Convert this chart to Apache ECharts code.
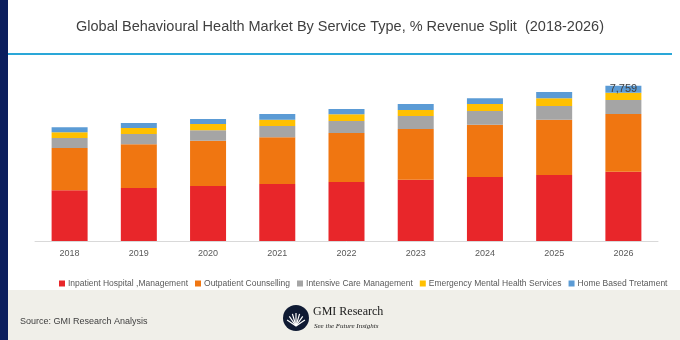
<!DOCTYPE html>
<html><head><meta charset="utf-8">
<script src="https://cdn.jsdelivr.net/npm/echarts@6/dist/echarts.min.js"></script>
<style>html,body{margin:0;padding:0;background:#fff}#c{width:680px;height:340px}</style>
</head><body><div id="c"></div>
<script>
var categories = ['2018','2019','2020','2021','2022','2023','2024','2025','2026'];
var seriesNames = ['Inpatient Hospital ,Management','Outpatient Counselling','Intensive Care Management','Emergency Mental Health Services','Home Based Tretament'];
var inpatient  = [2535, 2650, 2750, 2850, 2950, 3065, 3200, 3300, 3459];
var outpatient = [2115, 2185, 2265, 2335, 2450, 2535, 2615, 2765, 2885];
var intensive  = [500, 515, 520, 565, 600, 650, 685, 685, 700];
var emergency  = [285, 300, 315, 315, 335, 300, 350, 385, 365];
var homeBased  = [250, 250, 250, 285, 265, 300, 285, 315, 350];
var colors = ['#e8262a','#f07611','#a5a5a5','#ffc000','#5b9bd5'];
var titleText = 'Global Behavioural Health Market By Service Type, % Revenue Split  (2018-2026)';
var sourceText = 'Source: GMI Research Analysis';

var all = [inpatient, outpatient, intensive, emergency, homeBased];
var lastIdx = categories.length - 1;
var lastTotal = all.reduce(function(s,a){return s + a[lastIdx];}, 0);

var chart = echarts.init(document.getElementById('c'));
var series = all.map(function(arr, i){
  return {
    name: seriesNames[i], type: 'bar', stack: 'total', barWidth: 36,
    itemStyle: {color: colors[i]},
    data: arr.map(function(v, j){
      if (i === all.length - 1 && j === lastIdx) {
        return {value: v, label: {show: true, position: 'inside', formatter: lastTotal.toLocaleString('en-US'),
          color: '#404040', fontSize: 11, fontFamily: 'Liberation Sans'}};
      }
      return v;
    })
  };
});

var fan = [];
for (var k = 0; k < 7; k++) {
  var ang = Math.PI * (0.15 + 0.7 * k / 6);
  fan.push({type: 'line', shape: {x1: 296, y1: 326, x2: 296 - Math.cos(ang) * 10, y2: 326 - Math.sin(ang) * 13},
    style: {stroke: '#fff', lineWidth: 1.2}});
}

chart.setOption({
  animation: false,
  textStyle: {fontFamily: 'Liberation Sans'},
  title: {text: titleText, left: 'center', top: 14,
    textStyle: {fontSize: 14.5, fontWeight: 'normal', color: '#404040', fontFamily: 'Liberation Sans'}},
  legend: {data: seriesNames, left: 59, top: 279, width: 621, padding: 0, itemWidth: 6, itemHeight: 6, itemGap: 7, icon: 'rect',
    textStyle: {fontSize: 8.5, color: '#595959', padding: [0,0,0,-2]}},
  grid: {left: 35, right: 22, top: 61, bottom: 99},
  xAxis: {type: 'category', data: categories,
    axisLine: {lineStyle: {color: '#d9d9d9'}}, axisTick: {show: false},
    axisLabel: {color: '#595959', fontSize: 9, margin: 8}},
  yAxis: {type: 'value', min: 0, max: 9000, show: false, splitLine: {show: false}},
  series: series,
  graphic: [
    {type: 'rect', shape: {x: 0, y: 0, width: 8, height: 340}, style: {fill: '#0c1f5e'}, z: 10},
    {type: 'rect', shape: {x: 8, y: 53, width: 664, height: 2}, style: {fill: '#2aa7d8'}},
    {type: 'rect', shape: {x: 8, y: 290, width: 672, height: 50}, style: {fill: '#f0efe9'}, z: -1},
    {type: 'text', left: 20, top: 317, style: {text: sourceText, fontSize: 9, fill: '#404040', fontFamily: 'Liberation Sans'}},
    {type: 'circle', shape: {cx: 296, cy: 318, r: 13}, style: {fill: '#0f1a33'}},
    {type: 'group', children: fan},
    {type: 'text', left: 313, top: 306, style: {text: 'GMI Research', fontSize: 12, fill: '#1a1a1a', fontFamily: 'Liberation Serif'}},
    {type: 'text', left: 314, top: 323, style: {text: 'See the Future Insights', fontSize: 7, fontStyle: 'italic', fill: '#1a1a1a', fontFamily: 'Liberation Serif'}}
  ]
});
</script></body></html>
